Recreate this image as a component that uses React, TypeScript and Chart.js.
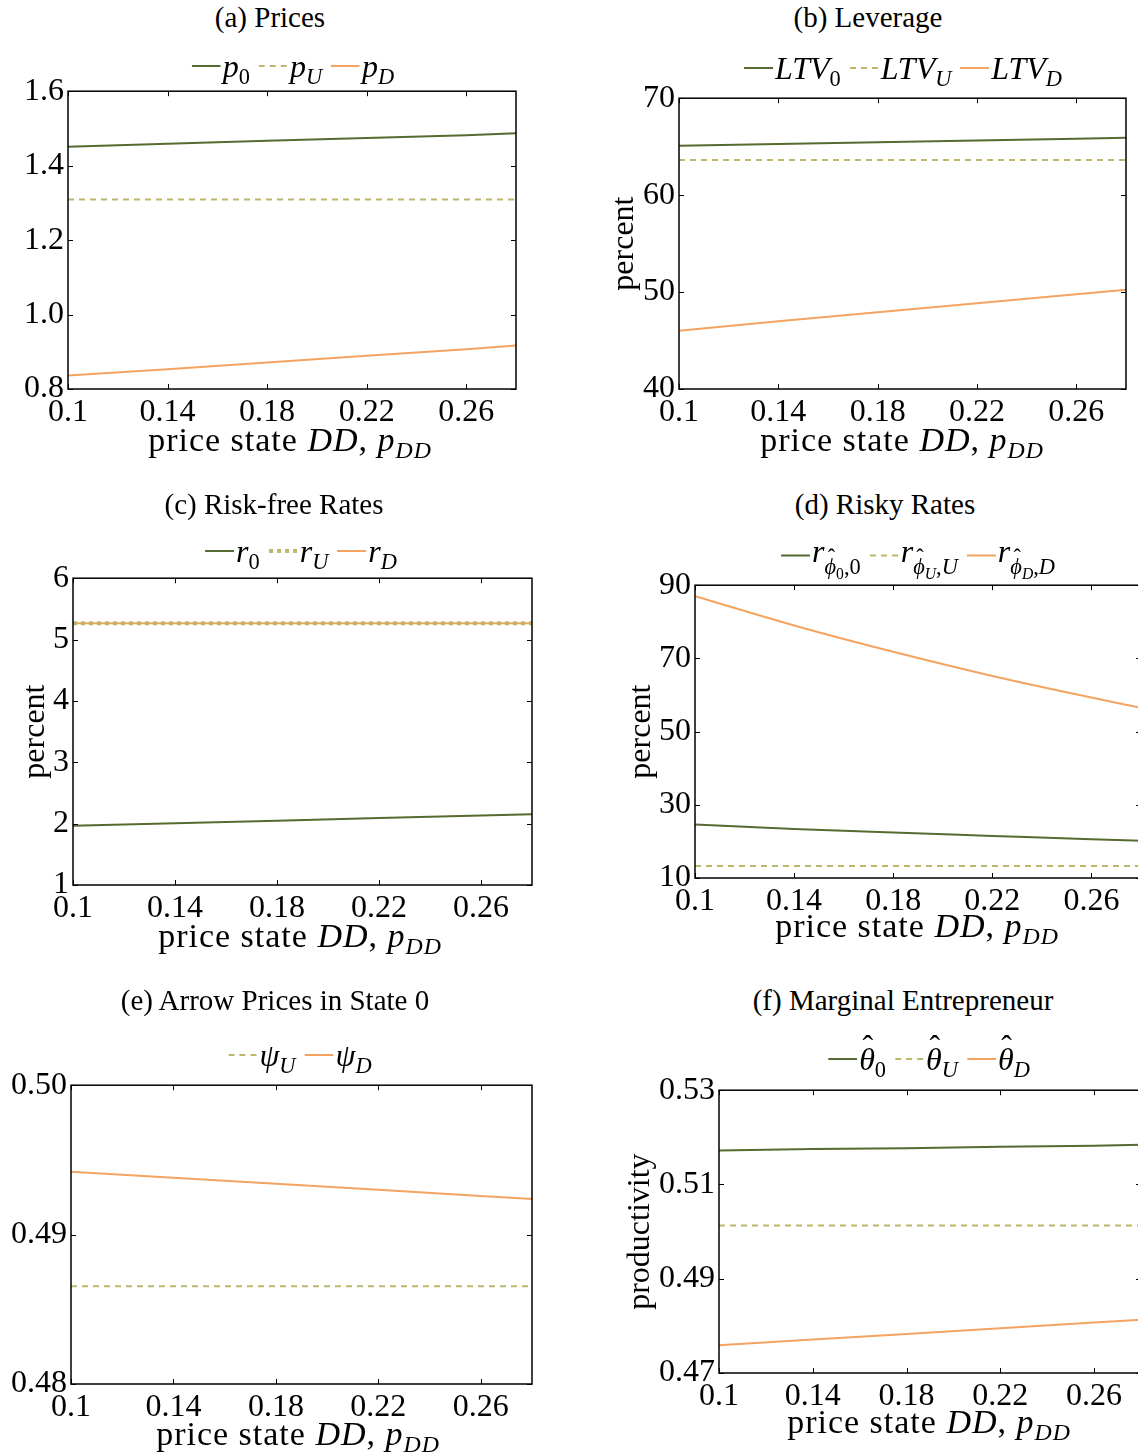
import React, { useEffect, useRef } from "react";
import { Chart, registerables } from "chart.js";

Chart.register(...registerables);

const FONT = "'Liberation Serif', 'Times New Roman', serif";
const GREEN = "#556B2F";
const KHAKI = "#BDB76B";
const ORANGE = "#F4A460";

// shared x axis
const xValues = [0.1, 0.14, 0.18, 0.22, 0.26, 0.28];
const xTicks = [0.1, 0.14, 0.18, 0.22, 0.26];
const xTickLabels = ["0.1", "0.14", "0.18", "0.22", "0.26"];

// (a) Prices
const pricesTicks = [0.8, 1.0, 1.2, 1.4, 1.6];
const pricesTickLabels = ["0.8", "1.0", "1.2", "1.4", "1.6"];
const priceP0 = [1.451, 1.459, 1.467, 1.474, 1.482, 1.487];
const priceU = [1.309, 1.309, 1.309, 1.309, 1.309, 1.309];
const priceD = [0.836, 0.853, 0.871, 0.889, 0.907, 0.917];

// (b) Leverage
const levTicks = [40, 50, 60, 70];
const levTickLabels = ["40", "50", "60", "70"];
const ltv0 = [65.1, 65.28, 65.46, 65.64, 65.82, 65.92];
const ltvU = [63.63, 63.63, 63.63, 63.63, 63.63, 63.63];
const ltvD = [46.0, 46.98, 47.93, 48.85, 49.78, 50.24];

// (c) Risk-free rates
const rfTicks = [1, 2, 3, 4, 5, 6];
const rfTickLabels = ["1", "2", "3", "4", "5", "6"];
const rf0 = [1.964, 2.006, 2.048, 2.09, 2.132, 2.154];
const rfU = [5.265, 5.265, 5.265, 5.265, 5.265, 5.265];
const rfD = [5.265, 5.265, 5.265, 5.265, 5.265, 5.265];

// (d) Risky rates
const riskyTicks = [10, 30, 50, 70, 90];
const riskyTickLabels = ["10", "30", "50", "70", "90"];
const risky0 = [24.6, 23.4, 22.4, 21.5, 20.6, 20.2];
const riskyU = [13.3, 13.3, 13.3, 13.3, 13.3, 13.3];
const riskyD = [87.0, 79.0, 71.8, 65.2, 59.3, 56.5];

// (e) Arrow prices in state 0
const arrowTicks = [0.48, 0.49, 0.5];
const arrowTickLabels = ["0.48", "0.49", "0.50"];
const psiU = [0.48655, 0.48655, 0.48655, 0.48655, 0.48655, 0.48655];
const psiD = [0.49421, 0.49381, 0.49341, 0.493, 0.49259, 0.49238];

// (f) Marginal entrepreneur
const prodTicks = [0.47, 0.49, 0.51, 0.53];
const prodTickLabels = ["0.47", "0.49", "0.51", "0.53"];
const theta0 = [0.5172, 0.5175, 0.5177, 0.518, 0.5182, 0.5184];
const thetaU = [0.5013, 0.5013, 0.5013, 0.5013, 0.5013, 0.5013];
const thetaD = [0.4759, 0.4771, 0.4783, 0.4795, 0.4807, 0.4813];

const Sub = ({ children, drop = "-0.3em" }: { children: React.ReactNode; drop?: string }) => (
  <span style={{ fontSize: "0.7em", verticalAlign: drop, lineHeight: 0 }}>{children}</span>
);
const Hat = ({ children, shift = "55%" }: { children: React.ReactNode; shift?: string }) => (
  <span style={{ position: "relative", display: "inline-block" }}>
    {children}
    <span
      style={{
        position: "absolute",
        left: shift,
        top: "-0.42em",
        transform: "translateX(-50%)",
        fontStyle: "normal",
      }}
    >
      ˆ
    </span>
  </span>
);

type Series = {
  name: string;
  legend: React.ReactNode;
  data: number[];
  color: string;
  dash?: number[];
  width?: number;
  cubic?: boolean;
};

type Panel = {
  key: string;
  title: string;
  titleX: number;
  titleY: number;
  legendX: number;
  legendY: number;
  xlabelX: number;
  xlabelY: number;
  L: number;
  R: number;
  T: number;
  B: number;
  canvasLeft: number;
  yMin: number;
  yMax: number;
  yTicks: number[];
  yTickLabels: string[];
  yTitle?: string;
  yTitlePad?: number;
  series: Series[];
};

const DASH = [6, 5];

const panels: Panel[] = [
  {
    key: "a",
    title: "(a) Prices",
    titleX: 270,
    titleY: 17,
    legendX: 293,
    legendY: 66,
    xlabelX: 290,
    xlabelY: 440,
    L: 68,
    R: 516,
    T: 90,
    B: 389,
    canvasLeft: 0,
    yMin: 0.8,
    yMax: 1.6,
    yTicks: pricesTicks,
    yTickLabels: pricesTickLabels,
    series: [
      { name: "p0", legend: <><i>p</i><Sub>0</Sub></>, data: priceP0, color: GREEN },
      { name: "pU", legend: <><i>p</i><Sub><i>U</i></Sub></>, data: priceU, color: KHAKI, dash: DASH },
      { name: "pD", legend: <><i>p</i><Sub><i>D</i></Sub></>, data: priceD, color: ORANGE },
    ],
  },
  {
    key: "b",
    title: "(b) Leverage",
    titleX: 868,
    titleY: 17,
    legendX: 903,
    legendY: 68,
    xlabelX: 902,
    xlabelY: 440,
    L: 679,
    R: 1126,
    T: 97,
    B: 389,
    canvasLeft: 570,
    yMin: 40,
    yMax: 70,
    yTicks: levTicks,
    yTickLabels: levTickLabels,
    yTitle: "percent",
    yTitlePad: 36,
    series: [
      { name: "LTV0", legend: <><i>LTV</i><Sub>0</Sub></>, data: ltv0, color: GREEN },
      { name: "LTVU", legend: <><i>LTV</i><Sub><i>U</i></Sub></>, data: ltvU, color: KHAKI, dash: DASH },
      { name: "LTVD", legend: <><i>LTV</i><Sub><i>D</i></Sub></>, data: ltvD, color: ORANGE },
    ],
  },
  {
    key: "c",
    title: "(c) Risk-free Rates",
    titleX: 274,
    titleY: 504,
    legendX: 301,
    legendY: 551,
    xlabelX: 300,
    xlabelY: 936,
    L: 73,
    R: 532,
    T: 577,
    B: 885,
    canvasLeft: 0,
    yMin: 1,
    yMax: 6,
    yTicks: rfTicks,
    yTickLabels: rfTickLabels,
    yTitle: "percent",
    yTitlePad: 17,
    series: [
      { name: "r0", legend: <><i>r</i><Sub>0</Sub></>, data: rf0, color: GREEN },
      { name: "rU", legend: <><i>r</i><Sub><i>U</i></Sub></>, data: rfU, color: KHAKI, dash: [4, 4], width: 4 },
      { name: "rD", legend: <><i>r</i><Sub><i>D</i></Sub></>, data: rfD, color: ORANGE },
    ],
  },
  {
    key: "d",
    title: "(d) Risky Rates",
    titleX: 885,
    titleY: 504,
    legendX: 918,
    legendY: 555,
    xlabelX: 917,
    xlabelY: 926,
    L: 695,
    R: 1141,
    T: 584,
    B: 878,
    canvasLeft: 570,
    yMin: 10,
    yMax: 90,
    yTicks: riskyTicks,
    yTickLabels: riskyTickLabels,
    yTitle: "percent",
    yTitlePad: 53,
    series: [
      {
        name: "r_phi0_0",
        legend: (
          <>
            <i>r</i>
            <Sub drop="-0.55em">
              <Hat shift="60%"><i>ϕ</i></Hat>
              <Sub drop="-0.3em">0</Sub>,0
            </Sub>
          </>
        ),
        data: risky0,
        color: GREEN,
        cubic: true,
      },
      {
        name: "r_phiU_U",
        legend: (
          <>
            <i>r</i>
            <Sub drop="-0.55em">
              <Hat shift="60%"><i>ϕ</i></Hat>
              <Sub drop="-0.3em"><i>U</i></Sub>,<i>U</i>
            </Sub>
          </>
        ),
        data: riskyU,
        color: KHAKI,
        dash: DASH,
      },
      {
        name: "r_phiD_D",
        legend: (
          <>
            <i>r</i>
            <Sub drop="-0.55em">
              <Hat shift="60%"><i>ϕ</i></Hat>
              <Sub drop="-0.3em"><i>D</i></Sub>,<i>D</i>
            </Sub>
          </>
        ),
        data: riskyD,
        color: ORANGE,
        cubic: true,
      },
    ],
  },
  {
    key: "e",
    title: "(e) Arrow Prices in State 0",
    titleX: 275,
    titleY: 1000,
    legendX: 300,
    legendY: 1055,
    xlabelX: 298,
    xlabelY: 1434,
    L: 71,
    R: 532,
    T: 1084,
    B: 1384,
    canvasLeft: 0,
    yMin: 0.48,
    yMax: 0.5,
    yTicks: arrowTicks,
    yTickLabels: arrowTickLabels,
    series: [
      { name: "psiU", legend: <><i>ψ</i><Sub><i>U</i></Sub></>, data: psiU, color: KHAKI, dash: DASH },
      { name: "psiD", legend: <><i>ψ</i><Sub><i>D</i></Sub></>, data: psiD, color: ORANGE },
    ],
  },
  {
    key: "f",
    title: "(f) Marginal Entrepreneur",
    titleX: 903,
    titleY: 1000,
    legendX: 929,
    legendY: 1059,
    xlabelX: 929,
    xlabelY: 1422,
    L: 719,
    R: 1141,
    T: 1089,
    B: 1373,
    canvasLeft: 570,
    yMin: 0.47,
    yMax: 0.53,
    yTicks: prodTicks,
    yTickLabels: prodTickLabels,
    yTitle: "productivity",
    yTitlePad: 52,
    series: [
      { name: "theta0", legend: <><Hat><i>θ</i></Hat><Sub>0</Sub></>, data: theta0, color: GREEN },
      { name: "thetaU", legend: <><Hat><i>θ</i></Hat><Sub><i>U</i></Sub></>, data: thetaU, color: KHAKI, dash: DASH },
      { name: "thetaD", legend: <><Hat><i>θ</i></Hat><Sub><i>D</i></Sub></>, data: thetaD, color: ORANGE },
    ],
  },
];

const PAD_TOP = 22;
const PAD_RIGHT = 20;
const X_AXIS_H = 52;
const TICK_FONT = 32;
const TICK_LEN = 5;

const framePlugin = {
  id: "matlabFrame",
  afterDatasetsDraw(chart: any) {
    const { ctx, chartArea, scales } = chart;
    const { left, right, top, bottom } = chartArea;
    ctx.save();
    ctx.strokeStyle = "#000";
    ctx.lineWidth = 1;
    ctx.beginPath();
    scales.x.ticks.forEach((t: any) => {
      const px = Math.round(scales.x.getPixelForValue(t.value)) + 0.5;
      ctx.moveTo(px, bottom);
      ctx.lineTo(px, bottom - TICK_LEN);
      ctx.moveTo(px, top);
      ctx.lineTo(px, top + TICK_LEN);
    });
    scales.y.ticks.forEach((t: any) => {
      const py = Math.round(scales.y.getPixelForValue(t.value)) + 0.5;
      ctx.moveTo(left, py);
      ctx.lineTo(left + TICK_LEN, py);
      ctx.moveTo(right, py);
      ctx.lineTo(right - TICK_LEN, py);
    });
    ctx.stroke();
    ctx.lineWidth = 1.5;
    ctx.strokeRect(left, top, right - left, bottom - top);
    ctx.restore();
  },
};

function LegendSample({ s }: { s: Series }) {
  const w = s.width ?? 2;
  const dash = s.dash ? s.dash.join(" ") : undefined;
  return (
    <svg width={29} height={8} style={{ display: "block" }}>
      <line x1={0} y1={4} x2={29} y2={4} stroke={s.color} strokeWidth={w} strokeDasharray={dash} />
    </svg>
  );
}

function PanelView({ p }: { p: Panel }) {
  const ref = useRef<HTMLCanvasElement | null>(null);
  const canvasTop = p.T - PAD_TOP;
  const cw = p.R + PAD_RIGHT - p.canvasLeft;
  const ch = p.B - canvasTop + X_AXIS_H;
  const yW = p.L - p.canvasLeft;

  useEffect(() => {
    if (!ref.current) return;
    const tickFont = { family: FONT, size: TICK_FONT };
    const chart = new Chart(ref.current, {
      type: "line",
      data: {
        datasets: p.series.map((s) => ({
          label: s.name,
          data: xValues.map((x, i) => ({ x, y: s.data[i] })),
          borderColor: s.color,
          backgroundColor: s.color,
          borderWidth: s.width ?? 2,
          borderDash: s.dash ?? [],
          pointRadius: 0,
          fill: false,
          tension: 0,
          cubicInterpolationMode: s.cubic ? "monotone" : "default",
        })),
      },
      options: {
        animation: false,
        responsive: false,
        maintainAspectRatio: false,
        devicePixelRatio: 1,
        layout: { padding: { left: 0, top: PAD_TOP, right: PAD_RIGHT, bottom: 0 } },
        plugins: {
          legend: { display: false },
          tooltip: { enabled: false },
          title: { display: false },
        },
        events: [],
        scales: {
          x: {
            type: "linear",
            min: 0.1,
            max: 0.28,
            bounds: "data",
            grid: { display: false, drawTicks: false },
            border: { display: false },
            afterBuildTicks: (s: any) => {
              s.ticks = xTicks.map((v) => ({ value: v }));
            },
            afterFit: (s: any) => {
              s.height = X_AXIS_H;
            },
            ticks: {
              autoSkip: false,
              maxRotation: 0,
              minRotation: 0,
              padding: 4,
              color: "#000",
              font: tickFont,
              callback: (_v: any, i: number) => xTickLabels[i],
            },
          },
          y: {
            type: "linear",
            min: p.yMin,
            max: p.yMax,
            bounds: "data",
            grid: { display: false, drawTicks: false },
            border: { display: false },
            afterBuildTicks: (s: any) => {
              s.ticks = p.yTicks.map((v) => ({ value: v }));
            },
            afterFit: (s: any) => {
              s.width = yW;
            },
            title: {
              display: !!p.yTitle,
              text: p.yTitle ?? "",
              color: "#000",
              font: { family: FONT, size: 32 },
              padding: { top: (p.yTitlePad ?? 0) - 1, bottom: 0 },
            },
            ticks: {
              autoSkip: false,
              padding: 4,
              color: "#000",
              font: tickFont,
              callback: (_v: any, i: number) => p.yTickLabels[i],
            },
          },
        },
      } as any,
      plugins: [framePlugin],
    });
    return () => chart.destroy();
  }, []);

  const center: React.CSSProperties = {
    position: "absolute",
    transform: "translate(-50%, -50%)",
    whiteSpace: "nowrap",
    lineHeight: 1,
    zIndex: 2,
  };

  return (
    <>
      <canvas
        ref={ref}
        width={cw}
        height={ch}
        style={{ position: "absolute", left: p.canvasLeft, top: canvasTop, width: cw, height: ch }}
      />
      <div style={{ ...center, left: p.titleX, top: p.titleY, fontSize: 29 }}>{p.title}</div>
      <div
        style={{
          ...center,
          left: p.legendX,
          top: p.legendY,
          fontSize: 32,
          display: "flex",
          alignItems: "center",
          gap: 9,
        }}
      >
        {p.series.map((s) => (
          <div key={s.name} style={{ display: "flex", alignItems: "center", gap: 2 }}>
            <LegendSample s={s} />
            <span>{s.legend}</span>
          </div>
        ))}
      </div>
      <div style={{ ...center, left: p.xlabelX, top: p.xlabelY, fontSize: 34, letterSpacing: 1 }}>
        price state <i>DD</i>, <i>p</i>
        <Sub>
          <i>DD</i>
        </Sub>
      </div>
    </>
  );
}

export default function App() {
  return (
    <div
      style={{
        position: "absolute",
        left: 0,
        top: 0,
        width: 1138,
        height: 1454,
        overflow: "hidden",
        background: "#fff",
        fontFamily: FONT,
        color: "#000",
      }}
    >
      {panels.map((p) => (
        <PanelView key={p.key} p={p} />
      ))}
    </div>
  );
}
